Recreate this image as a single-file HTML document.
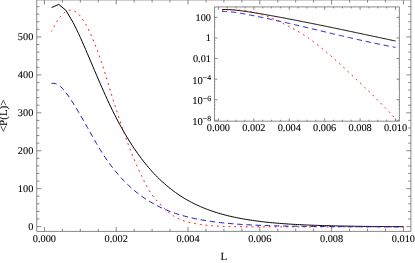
<!DOCTYPE html>
<html><head><meta charset="utf-8"><title>plot</title>
<style>
html,body{margin:0;padding:0;background:#fff;}
body{width:415px;height:263px;overflow:hidden;font-family:"Liberation Serif",serif;}
svg{display:block;}
</style></head><body>
<svg width="415" height="263" viewBox="0 0 415 263">
<rect width="415" height="263" fill="#fff"/>
<path d="M36.75 231.4 H410.9 M36.75 -0.1 H410.9 M36.75 -0.1 V231.4 M410.9 -0.1 V231.4 M44.4 231.4 v-4.6 M44.4 -0.1 v4.6 M62.35 231.4 v-2.7 M62.35 -0.1 v2.7 M80.3 231.4 v-2.7 M80.3 -0.1 v2.7 M98.25 231.4 v-2.7 M98.25 -0.1 v2.7 M116.2 231.4 v-4.6 M116.2 -0.1 v4.6 M134.15 231.4 v-2.7 M134.15 -0.1 v2.7 M152.1 231.4 v-2.7 M152.1 -0.1 v2.7 M170.05 231.4 v-2.7 M170.05 -0.1 v2.7 M188 231.4 v-4.6 M188 -0.1 v4.6 M205.95 231.4 v-2.7 M205.95 -0.1 v2.7 M223.9 231.4 v-2.7 M223.9 -0.1 v2.7 M241.85 231.4 v-2.7 M241.85 -0.1 v2.7 M259.8 231.4 v-4.6 M259.8 -0.1 v4.6 M277.75 231.4 v-2.7 M277.75 -0.1 v2.7 M295.7 231.4 v-2.7 M295.7 -0.1 v2.7 M313.65 231.4 v-2.7 M313.65 -0.1 v2.7 M331.6 231.4 v-4.6 M331.6 -0.1 v4.6 M349.55 231.4 v-2.7 M349.55 -0.1 v2.7 M367.5 231.4 v-2.7 M367.5 -0.1 v2.7 M385.45 231.4 v-2.7 M385.45 -0.1 v2.7 M403.4 231.4 v-4.6 M403.4 -0.1 v4.6 M36.75 226.6 h4.6 M410.9 226.6 h-4.6 M36.75 219.01 h2.7 M410.9 219.01 h-2.7 M36.75 211.43 h2.7 M410.9 211.43 h-2.7 M36.75 203.84 h2.7 M410.9 203.84 h-2.7 M36.75 196.26 h2.7 M410.9 196.26 h-2.7 M36.75 188.67 h4.6 M410.9 188.67 h-4.6 M36.75 181.08 h2.7 M410.9 181.08 h-2.7 M36.75 173.5 h2.7 M410.9 173.5 h-2.7 M36.75 165.91 h2.7 M410.9 165.91 h-2.7 M36.75 158.33 h2.7 M410.9 158.33 h-2.7 M36.75 150.74 h4.6 M410.9 150.74 h-4.6 M36.75 143.15 h2.7 M410.9 143.15 h-2.7 M36.75 135.57 h2.7 M410.9 135.57 h-2.7 M36.75 127.98 h2.7 M410.9 127.98 h-2.7 M36.75 120.4 h2.7 M410.9 120.4 h-2.7 M36.75 112.81 h4.6 M410.9 112.81 h-4.6 M36.75 105.22 h2.7 M410.9 105.22 h-2.7 M36.75 97.64 h2.7 M410.9 97.64 h-2.7 M36.75 90.05 h2.7 M410.9 90.05 h-2.7 M36.75 82.47 h2.7 M410.9 82.47 h-2.7 M36.75 74.88 h4.6 M410.9 74.88 h-4.6 M36.75 67.29 h2.7 M410.9 67.29 h-2.7 M36.75 59.71 h2.7 M410.9 59.71 h-2.7 M36.75 52.12 h2.7 M410.9 52.12 h-2.7 M36.75 44.54 h2.7 M410.9 44.54 h-2.7 M36.75 36.95 h4.6 M410.9 36.95 h-4.6 M36.75 29.36 h2.7 M410.9 29.36 h-2.7 M36.75 21.78 h2.7 M410.9 21.78 h-2.7 M36.75 14.19 h2.7 M410.9 14.19 h-2.7 M36.75 6.61 h2.7 M410.9 6.61 h-2.7" fill="none" stroke="#6a6a6a" stroke-width="0.8"/>
<path d="M214.55 6.9 H399.4 V121.2 H214.55 Z M218.44 121.2 v-2.9 M218.44 6.9 v2.9 M227.29 121.2 v-1.5 M227.29 6.9 v1.5 M236.15 121.2 v-1.5 M236.15 6.9 v1.5 M245 121.2 v-1.5 M245 6.9 v1.5 M253.86 121.2 v-2.9 M253.86 6.9 v2.9 M262.71 121.2 v-1.5 M262.71 6.9 v1.5 M271.57 121.2 v-1.5 M271.57 6.9 v1.5 M280.42 121.2 v-1.5 M280.42 6.9 v1.5 M289.28 121.2 v-2.9 M289.28 6.9 v2.9 M298.13 121.2 v-1.5 M298.13 6.9 v1.5 M306.99 121.2 v-1.5 M306.99 6.9 v1.5 M315.84 121.2 v-1.5 M315.84 6.9 v1.5 M324.69 121.2 v-2.9 M324.69 6.9 v2.9 M333.55 121.2 v-1.5 M333.55 6.9 v1.5 M342.4 121.2 v-1.5 M342.4 6.9 v1.5 M351.26 121.2 v-1.5 M351.26 6.9 v1.5 M360.11 121.2 v-2.9 M360.11 6.9 v2.9 M368.97 121.2 v-1.5 M368.97 6.9 v1.5 M377.82 121.2 v-1.5 M377.82 6.9 v1.5 M386.68 121.2 v-1.5 M386.68 6.9 v1.5 M395.53 121.2 v-2.9 M395.53 6.9 v2.9 M214.55 17.4 h2.9 M399.4 17.4 h-2.9 M214.55 37.98 h2.9 M399.4 37.98 h-2.9 M214.55 58.56 h2.9 M399.4 58.56 h-2.9 M214.55 79.14 h2.9 M399.4 79.14 h-2.9 M214.55 99.72 h2.9 M399.4 99.72 h-2.9 M214.55 120.3 h2.9 M399.4 120.3 h-2.9" fill="none" stroke="#6a6a6a" stroke-width="0.8"/>
<path d="M214.55 19.85 h1.4 M399.4 19.85 h-1.4 M214.55 22.8 h1.4 M399.4 22.8 h-1.4 M214.55 26.25 h1.4 M399.4 26.25 h-1.4 M214.55 40.43 h1.4 M399.4 40.43 h-1.4 M214.55 43.38 h1.4 M399.4 43.38 h-1.4 M214.55 46.83 h1.4 M399.4 46.83 h-1.4 M214.55 61.01 h1.4 M399.4 61.01 h-1.4 M214.55 63.96 h1.4 M399.4 63.96 h-1.4 M214.55 67.41 h1.4 M399.4 67.41 h-1.4 M214.55 81.59 h1.4 M399.4 81.59 h-1.4 M214.55 84.54 h1.4 M399.4 84.54 h-1.4 M214.55 87.99 h1.4 M399.4 87.99 h-1.4 M214.55 102.17 h1.4 M399.4 102.17 h-1.4 M214.55 105.12 h1.4 M399.4 105.12 h-1.4 M214.55 108.57 h1.4 M399.4 108.57 h-1.4" fill="none" stroke="#6a6a6a" stroke-width="0.6" opacity="0.4"/>
<g fill="none" stroke-width="1" stroke-linejoin="round">
<path d="M51.58 7.5 L58.76 4.4 L65.94 10.4 L73.12 22.56 L74.91 26.07 L76.71 29.72 L78.5 33.5 L80.3 37.39 L82.09 41.38 L83.89 45.45 L85.68 49.58 L87.48 53.76 L89.27 57.97 L91.07 62.21 L92.86 66.45 L94.66 70.68 L96.45 74.9 L98.25 79.09 L100.04 83.24 L101.84 87.35 L103.63 91.41 L105.43 95.4 L107.22 99.32 L109.02 103.18 L110.81 106.95 L112.61 110.64 L114.4 114.24 L116.2 117.76 L117.99 121.2 L119.79 124.55 L121.58 127.81 L123.38 131 L125.17 134.1 L126.97 137.11 L128.76 140.05 L130.56 142.91 L132.35 145.69 L134.15 148.4 L135.94 151.03 L137.74 153.58 L139.53 156.06 L141.33 158.47 L143.12 160.81 L144.92 163.08 L146.71 165.28 L148.51 167.42 L150.3 169.49 L152.1 171.49 L153.89 173.44 L155.69 175.32 L157.48 177.15 L159.28 178.92 L161.07 180.63 L162.87 182.28 L164.66 183.88 L166.46 185.43 L168.25 186.93 L170.05 188.38 L171.84 189.78 L173.64 191.14 L175.43 192.45 L177.23 193.71 L179.02 194.93 L180.82 196.11 L182.61 197.25 L184.41 198.35 L186.2 199.41 L188 200.43 L189.79 201.42 L191.59 202.37 L193.38 203.29 L195.18 204.17 L196.97 205.03 L198.77 205.85 L200.56 206.64 L202.36 207.41 L204.15 208.15 L205.95 208.86 L207.74 209.54 L209.54 210.21 L211.33 210.84 L213.13 211.45 L214.92 212.05 L216.72 212.61 L218.51 213.16 L220.31 213.69 L222.1 214.2 L223.9 214.69 L225.69 215.16 L227.49 215.61 L229.28 216.05 L231.08 216.47 L232.87 216.88 L234.67 217.26 L236.46 217.64 L238.26 218 L240.05 218.35 L241.85 218.68 L243.64 219 L245.44 219.31 L247.23 219.61 L249.03 219.9 L250.82 220.17 L252.62 220.43 L254.41 220.69 L256.21 220.93 L258 221.17 L259.8 221.39 L261.59 221.61 L263.39 221.82 L265.18 222.02 L266.98 222.21 L268.77 222.4 L270.57 222.58 L272.36 222.75 L274.16 222.91 L275.95 223.07 L277.75 223.22 L279.54 223.37 L281.34 223.51 L283.13 223.65 L284.93 223.78 L286.72 223.9 L288.52 224.02 L290.31 224.13 L292.11 224.24 L293.9 224.35 L295.7 224.45 L297.49 224.55 L299.29 224.64 L301.08 224.73 L302.88 224.82 L304.67 224.9 L306.47 224.98 L308.26 225.06 L310.06 225.13 L311.85 225.2 L313.65 225.27 L315.44 225.33 L317.24 225.39 L319.03 225.45 L320.83 225.51 L322.62 225.57 L324.42 225.62 L326.21 225.67 L328.01 225.72 L329.8 225.76 L331.6 225.81 L333.39 225.85 L335.19 225.89 L336.98 225.93 L338.78 225.97 L340.57 226.01 L342.37 226.04 L344.16 226.07 L345.96 226.11 L347.75 226.14 L349.55 226.17 L351.34 226.2 L353.14 226.22 L354.93 226.25 L356.73 226.27 L358.52 226.3 L360.32 226.32 L362.11 226.34 L363.91 226.36 L365.7 226.38 L367.5 226.4 L369.29 226.42 L371.09 226.44 L372.88 226.46 L374.68 226.47 L376.47 226.49 L378.27 226.5 L380.06 226.52 L381.86 226.53 L383.65 226.54 L385.45 226.56 L387.24 226.57 L389.04 226.58 L390.83 226.59 L392.63 226.6 L394.42 226.61 L396.22 226.62 L398.01 226.63 L399.81 226.64 L401.6 226.65 L403.4 226.66" stroke="#000"/>
<path d="M51.58 31.43 L53.38 27.79 L55.17 24.44 L56.96 21.4 L58.76 18.7 L60.55 16.35 L62.35 14.36 L64.14 12.75 L65.94 11.52 L67.73 10.68 L69.53 10.25 L71.32 10.22 L73.12 10.59 L74.91 11.38 L76.71 12.56 L78.5 14.14 L80.3 16.12 L82.09 18.47 L83.89 21.17 L85.68 24.2 L87.48 27.53 L89.27 31.13 L91.07 34.99 L92.86 39.11 L94.66 43.47 L96.45 48.09 L98.25 52.94 L100.04 58.02 L101.84 63.32 L103.63 68.82 L105.43 74.49 L107.22 80.33 L109.02 86.31 L110.81 92.31 L112.61 98.14 L114.4 103.82 L116.2 109.37 L117.99 114.82 L119.79 120.17 L121.58 125.46 L123.38 130.68 L125.17 135.83 L126.97 140.9 L128.76 145.83 L130.56 150.57 L132.35 155.1 L134.15 159.4 L135.94 163.53 L137.74 167.56 L139.53 171.52 L141.33 175.41 L143.12 179.18 L144.92 182.79 L146.71 186.18 L148.51 189.34 L150.3 192.24 L152.1 194.89 L153.89 197.28 L155.69 199.46 L157.48 201.49 L159.28 203.41 L161.07 205.26 L162.87 207.06 L164.66 208.82 L166.46 210.5 L168.25 212.08 L170.05 213.54 L171.84 214.88 L173.64 216.08 L175.43 217.16 L177.23 218.11 L179.02 218.96 L180.82 219.71 L182.61 220.39 L184.41 221.01 L186.2 221.56 L188 222.06 L189.79 222.52 L191.59 222.93 L193.38 223.31 L195.18 223.66 L196.97 223.98 L198.77 224.27 L200.56 224.54 L202.36 224.79 L204.15 225.01 L205.95 225.21 L207.74 225.39 L209.54 225.56 L211.33 225.71 L213.13 225.84 L214.92 225.96 L216.72 226.07 L218.51 226.16 L220.31 226.25 L222.1 226.32 L223.9 226.39 L225.69 226.45 L227.49 226.5 L229.28 226.55 L231.08 226.59 L232.87 226.62 L234.67 226.65 L236.46 226.68 L238.26 226.7 L240.05 226.72 L241.85 226.74 L243.64 226.76 L245.44 226.77 L247.23 226.78 L249.03 226.79 L250.82 226.8 L252.62 226.81 L254.41 226.81 L256.21 226.82 L258 226.82 L259.8 226.83 L261.59 226.83 L263.39 226.83 L265.18 226.84 L266.98 226.84 L268.77 226.84 L270.57 226.84 L272.36 226.84 L274.16 226.84 L275.95 226.85 L277.75 226.85 L279.54 226.85 L281.34 226.85 L283.13 226.85 L284.93 226.85 L286.72 226.85 L288.52 226.85 L290.31 226.85 L292.11 226.85 L293.9 226.85 L295.7 226.85 L297.49 226.85 L299.29 226.85 L301.08 226.85 L302.88 226.85 L304.67 226.85 L306.47 226.85 L308.26 226.85 L310.06 226.85 L311.85 226.85 L313.65 226.85 L315.44 226.85 L317.24 226.85 L319.03 226.85 L320.83 226.85 L322.62 226.85 L324.42 226.85 L326.21 226.85 L328.01 226.85 L329.8 226.85 L331.6 226.85 L333.39 226.85 L335.19 226.85 L336.98 226.85 L338.78 226.85 L340.57 226.85 L342.37 226.85 L344.16 226.85 L345.96 226.85 L347.75 226.85 L349.55 226.85 L351.34 226.85 L353.14 226.85 L354.93 226.85 L356.73 226.85 L358.52 226.85 L360.32 226.85 L362.11 226.85 L363.91 226.85 L365.7 226.85 L367.5 226.85 L369.29 226.85 L371.09 226.85 L372.88 226.85 L374.68 226.85 L376.47 226.85 L378.27 226.85 L380.06 226.85 L381.86 226.85 L383.65 226.85 L385.45 226.85 L387.24 226.85 L389.04 226.85 L390.83 226.85 L392.63 226.85 L394.42 226.85 L396.22 226.85 L398.01 226.85 L399.81 226.85 L401.6 226.85 L403.4 226.85" stroke="#f00" stroke-width="0.95" stroke-dasharray="1.8 3.96" stroke-dashoffset="0.9"/>
<path d="M51.58 83.5 L53.38 83.27 L55.17 83.51 L56.96 84.17 L58.76 85.22 L60.55 86.63 L62.35 88.36 L64.14 90.36 L65.94 92.59 L67.73 95.02 L69.53 97.6 L71.32 100.31 L73.12 103.1 L74.91 105.97 L76.71 108.92 L78.5 111.92 L80.3 114.98 L82.09 118.08 L83.89 121.22 L85.68 124.39 L87.48 127.57 L89.27 130.77 L91.07 133.98 L92.86 137.17 L94.66 140.33 L96.45 143.44 L98.25 146.49 L100.04 149.45 L101.84 152.32 L103.63 155.1 L105.43 157.79 L107.22 160.38 L109.02 162.9 L110.81 165.33 L112.61 167.68 L114.4 169.95 L116.2 172.15 L117.99 174.27 L119.79 176.32 L121.58 178.3 L123.38 180.22 L125.17 182.06 L126.97 183.84 L128.76 185.56 L130.56 187.22 L132.35 188.82 L134.15 190.36 L135.94 191.84 L137.74 193.27 L139.53 194.65 L141.33 195.98 L143.12 197.25 L144.92 198.48 L146.71 199.66 L148.51 200.8 L150.3 201.89 L152.1 202.94 L153.89 203.95 L155.69 204.93 L157.48 205.86 L159.28 206.75 L161.07 207.62 L162.87 208.44 L164.66 209.23 L166.46 210 L168.25 210.73 L170.05 211.43 L171.84 212.1 L173.64 212.74 L175.43 213.36 L177.23 213.96 L179.02 214.52 L180.82 215.07 L182.61 215.59 L184.41 216.09 L186.2 216.57 L188 217.02 L189.79 217.46 L191.59 217.88 L193.38 218.28 L195.18 218.67 L196.97 219.04 L198.77 219.39 L200.56 219.73 L202.36 220.05 L204.15 220.36 L205.95 220.65 L207.74 220.93 L209.54 221.2 L211.33 221.46 L213.13 221.7 L214.92 221.94 L216.72 222.16 L218.51 222.38 L220.31 222.58 L222.1 222.78 L223.9 222.97 L225.69 223.14 L227.49 223.31 L229.28 223.48 L231.08 223.63 L232.87 223.78 L234.67 223.92 L236.46 224.06 L238.26 224.19 L240.05 224.31 L241.85 224.43 L243.64 224.54 L245.44 224.64 L247.23 224.75 L249.03 224.84 L250.82 224.94 L252.62 225.02 L254.41 225.11 L256.21 225.19 L258 225.27 L259.8 225.34 L261.59 225.41 L263.39 225.48 L265.18 225.54 L266.98 225.6 L268.77 225.66 L270.57 225.71 L272.36 225.76 L274.16 225.81 L275.95 225.86 L277.75 225.91 L279.54 225.95 L281.34 225.99 L283.13 226.03 L284.93 226.07 L286.72 226.1 L288.52 226.14 L290.31 226.17 L292.11 226.2 L293.9 226.23 L295.7 226.26 L297.49 226.29 L299.29 226.31 L301.08 226.34 L302.88 226.36 L304.67 226.38 L306.47 226.4 L308.26 226.42 L310.06 226.44 L311.85 226.46 L313.65 226.48 L315.44 226.49 L317.24 226.51 L319.03 226.52 L320.83 226.54 L322.62 226.55 L324.42 226.57 L326.21 226.58 L328.01 226.59 L329.8 226.6 L331.6 226.61 L333.39 226.62 L335.19 226.63 L336.98 226.64 L338.78 226.65 L340.57 226.66 L342.37 226.67 L344.16 226.67 L345.96 226.68 L347.75 226.69 L349.55 226.7 L351.34 226.7 L353.14 226.71 L354.93 226.71 L356.73 226.72 L358.52 226.73 L360.32 226.73 L362.11 226.74 L363.91 226.74 L365.7 226.74 L367.5 226.75 L369.29 226.75 L371.09 226.76 L372.88 226.76 L374.68 226.76 L376.47 226.77 L378.27 226.77 L380.06 226.77 L381.86 226.78 L383.65 226.78 L385.45 226.78 L387.24 226.79 L389.04 226.79 L390.83 226.79 L392.63 226.79 L394.42 226.79 L396.22 226.8 L398.01 226.8 L399.81 226.8 L401.6 226.8 L403.4 226.8" stroke="#1818be" stroke-dasharray="5.45 3.75" stroke-dashoffset="0.25"/>
<path d="M221.98 9.56 L225.52 9.49 L229.07 9.62 L232.61 9.88 L233.49 9.95 L234.38 10.03 L235.26 10.12 L236.15 10.21 L237.03 10.31 L237.92 10.41 L238.81 10.51 L239.69 10.62 L240.58 10.73 L241.46 10.84 L242.35 10.96 L243.23 11.08 L244.12 11.2 L245 11.32 L245.89 11.45 L246.77 11.58 L247.66 11.71 L248.55 11.85 L249.43 11.98 L250.32 12.12 L251.2 12.26 L252.09 12.4 L252.97 12.54 L253.86 12.68 L254.74 12.82 L255.63 12.97 L256.51 13.11 L257.4 13.26 L258.29 13.4 L259.17 13.55 L260.06 13.7 L260.94 13.85 L261.83 14 L262.71 14.15 L263.6 14.3 L264.48 14.46 L265.37 14.61 L266.25 14.77 L267.14 14.92 L268.03 15.08 L268.91 15.24 L269.8 15.39 L270.68 15.55 L271.57 15.71 L272.45 15.87 L273.34 16.03 L274.22 16.19 L275.11 16.35 L275.99 16.52 L276.88 16.68 L277.77 16.84 L278.65 17.01 L279.54 17.17 L280.42 17.34 L281.31 17.5 L282.19 17.67 L283.08 17.84 L283.96 18 L284.85 18.17 L285.73 18.34 L286.62 18.51 L287.51 18.68 L288.39 18.85 L289.28 19.02 L290.16 19.19 L291.05 19.36 L291.93 19.53 L292.82 19.7 L293.7 19.87 L294.59 20.04 L295.47 20.21 L296.36 20.39 L297.25 20.56 L298.13 20.73 L299.02 20.91 L299.9 21.08 L300.79 21.25 L301.67 21.43 L302.56 21.6 L303.44 21.78 L304.33 21.95 L305.21 22.13 L306.1 22.31 L306.99 22.48 L307.87 22.66 L308.76 22.84 L309.64 23.01 L310.53 23.19 L311.41 23.37 L312.3 23.55 L313.18 23.73 L314.07 23.9 L314.95 24.08 L315.84 24.26 L316.72 24.44 L317.61 24.62 L318.5 24.8 L319.38 24.98 L320.27 25.16 L321.15 25.34 L322.04 25.52 L322.92 25.7 L323.81 25.88 L324.69 26.07 L325.58 26.25 L326.46 26.43 L327.35 26.61 L328.24 26.79 L329.12 26.98 L330.01 27.16 L330.89 27.34 L331.78 27.53 L332.66 27.71 L333.55 27.89 L334.43 28.08 L335.32 28.26 L336.2 28.44 L337.09 28.63 L337.98 28.81 L338.86 29 L339.75 29.18 L340.63 29.37 L341.52 29.55 L342.4 29.74 L343.29 29.92 L344.17 30.11 L345.06 30.29 L345.94 30.48 L346.83 30.67 L347.72 30.85 L348.6 31.04 L349.49 31.22 L350.37 31.41 L351.26 31.6 L352.14 31.78 L353.03 31.97 L353.91 32.16 L354.8 32.35 L355.68 32.53 L356.57 32.72 L357.46 32.91 L358.34 33.1 L359.23 33.28 L360.11 33.47 L361 33.66 L361.88 33.85 L362.77 34.03 L363.65 34.22 L364.54 34.41 L365.42 34.6 L366.31 34.79 L367.2 34.97 L368.08 35.16 L368.97 35.35 L369.85 35.54 L370.74 35.73 L371.62 35.92 L372.51 36.11 L373.39 36.29 L374.28 36.48 L375.16 36.67 L376.05 36.86 L376.94 37.05 L377.82 37.24 L378.71 37.43 L379.59 37.61 L380.48 37.8 L381.36 37.99 L382.25 38.18 L383.13 38.37 L384.02 38.56 L384.9 38.75 L385.79 38.94 L386.68 39.12 L387.56 39.31 L388.45 39.5 L389.33 39.69 L390.22 39.88 L391.1 40.07 L391.99 40.26 L392.87 40.44 L393.76 40.63 L394.64 40.82 L395.53 41.01" stroke="#000"/>
<path d="M221.98 10.07 L222.87 9.99 L223.75 9.92 L224.64 9.85 L225.52 9.79 L226.41 9.74 L227.29 9.7 L228.18 9.67 L229.07 9.64 L229.95 9.62 L230.84 9.61 L231.72 9.61 L232.61 9.62 L233.49 9.64 L234.38 9.66 L235.26 9.69 L236.15 9.74 L237.03 9.79 L237.92 9.85 L238.81 9.91 L239.69 9.99 L240.58 10.07 L241.46 10.16 L242.35 10.25 L243.23 10.36 L244.12 10.47 L245 10.59 L245.89 10.73 L246.77 10.87 L247.66 11.02 L248.55 11.19 L249.43 11.36 L250.32 11.55 L251.2 11.74 L252.09 11.94 L252.97 12.14 L253.86 12.35 L254.74 12.56 L255.63 12.78 L256.51 13.01 L257.4 13.24 L258.29 13.49 L259.17 13.74 L260.06 14.01 L260.94 14.28 L261.83 14.55 L262.71 14.83 L263.6 15.11 L264.48 15.4 L265.37 15.71 L266.25 16.04 L267.14 16.38 L268.03 16.73 L268.91 17.09 L269.8 17.45 L270.68 17.81 L271.57 18.17 L272.45 18.51 L273.34 18.86 L274.22 19.2 L275.11 19.55 L275.99 19.92 L276.88 20.31 L277.77 20.72 L278.65 21.16 L279.54 21.62 L280.42 22.08 L281.31 22.55 L282.19 23.03 L283.08 23.5 L283.96 23.96 L284.85 24.42 L285.73 24.87 L286.62 25.31 L287.51 25.76 L288.39 26.2 L289.28 26.65 L290.16 27.1 L291.05 27.55 L291.93 28 L292.82 28.47 L293.7 28.94 L294.59 29.42 L295.47 29.91 L296.36 30.41 L297.25 30.92 L298.13 31.44 L299.02 31.97 L299.9 32.51 L300.79 33.05 L301.67 33.61 L302.56 34.17 L303.44 34.74 L304.33 35.33 L305.21 35.91 L306.1 36.51 L306.99 37.12 L307.87 37.73 L308.76 38.35 L309.64 38.98 L310.53 39.61 L311.41 40.26 L312.3 40.91 L313.18 41.57 L314.07 42.23 L314.95 42.9 L315.84 43.58 L316.72 44.26 L317.61 44.95 L318.5 45.65 L319.38 46.35 L320.27 47.06 L321.15 47.77 L322.04 48.49 L322.92 49.22 L323.81 49.95 L324.69 50.69 L325.58 51.43 L326.46 52.17 L327.35 52.92 L328.24 53.68 L329.12 54.44 L330.01 55.2 L330.89 55.97 L331.78 56.75 L332.66 57.52 L333.55 58.3 L334.43 59.09 L335.32 59.88 L336.2 60.67 L337.09 61.46 L337.98 62.26 L338.86 63.07 L339.75 63.87 L340.63 64.68 L341.52 65.49 L342.4 66.3 L343.29 67.11 L344.17 67.93 L345.06 68.75 L345.94 69.57 L346.83 70.4 L347.72 71.22 L348.6 72.05 L349.49 72.87 L350.37 73.7 L351.26 74.53 L352.14 75.37 L353.03 76.2 L353.91 77.03 L354.8 77.87 L355.68 78.7 L356.57 79.54 L357.46 80.38 L358.34 81.22 L359.23 82.06 L360.11 82.9 L361 83.75 L361.88 84.6 L362.77 85.44 L363.65 86.3 L364.54 87.15 L365.42 88 L366.31 88.86 L367.2 89.72 L368.08 90.58 L368.97 91.44 L369.85 92.31 L370.74 93.18 L371.62 94.05 L372.51 94.92 L373.39 95.8 L374.28 96.68 L375.16 97.56 L376.05 98.45 L376.94 99.34 L377.82 100.23 L378.71 101.12 L379.59 102.02 L380.48 102.92 L381.36 103.83 L382.25 104.74 L383.13 105.65 L384.02 106.56 L384.9 107.48 L385.79 108.4 L386.68 109.33 L387.56 110.26 L388.45 111.2 L389.33 112.14 L390.22 113.08 L391.1 114.03 L391.99 114.98 L392.87 115.93 L393.76 116.89 L394.64 117.86 L395.53 118.83" stroke="#f00" stroke-width="0.95" stroke-dasharray="1.8 3.976" stroke-dashoffset="0.45"/>
<path d="M221.98 11.46 L222.87 11.45 L223.75 11.46 L224.64 11.48 L225.52 11.51 L226.41 11.56 L227.29 11.61 L228.18 11.68 L229.07 11.75 L229.95 11.83 L230.84 11.92 L231.72 12.02 L232.61 12.12 L233.49 12.22 L234.38 12.33 L235.26 12.45 L236.15 12.57 L237.03 12.69 L237.92 12.82 L238.81 12.96 L239.69 13.1 L240.58 13.25 L241.46 13.4 L242.35 13.55 L243.23 13.71 L244.12 13.88 L245 14.04 L245.89 14.21 L246.77 14.38 L247.66 14.55 L248.55 14.72 L249.43 14.89 L250.32 15.07 L251.2 15.24 L252.09 15.41 L252.97 15.59 L253.86 15.76 L254.74 15.94 L255.63 16.12 L256.51 16.3 L257.4 16.48 L258.29 16.66 L259.17 16.84 L260.06 17.02 L260.94 17.2 L261.83 17.39 L262.71 17.57 L263.6 17.76 L264.48 17.94 L265.37 18.13 L266.25 18.32 L267.14 18.51 L268.03 18.7 L268.91 18.89 L269.8 19.08 L270.68 19.27 L271.57 19.46 L272.45 19.66 L273.34 19.85 L274.22 20.04 L275.11 20.24 L275.99 20.43 L276.88 20.63 L277.77 20.83 L278.65 21.03 L279.54 21.22 L280.42 21.42 L281.31 21.62 L282.19 21.82 L283.08 22.02 L283.96 22.22 L284.85 22.42 L285.73 22.62 L286.62 22.83 L287.51 23.03 L288.39 23.23 L289.28 23.44 L290.16 23.64 L291.05 23.85 L291.93 24.05 L292.82 24.26 L293.7 24.46 L294.59 24.67 L295.47 24.87 L296.36 25.08 L297.25 25.29 L298.13 25.49 L299.02 25.7 L299.9 25.91 L300.79 26.12 L301.67 26.33 L302.56 26.54 L303.44 26.75 L304.33 26.95 L305.21 27.16 L306.1 27.37 L306.99 27.58 L307.87 27.79 L308.76 28 L309.64 28.21 L310.53 28.43 L311.41 28.64 L312.3 28.85 L313.18 29.06 L314.07 29.27 L314.95 29.48 L315.84 29.69 L316.72 29.9 L317.61 30.11 L318.5 30.33 L319.38 30.54 L320.27 30.75 L321.15 30.96 L322.04 31.17 L322.92 31.38 L323.81 31.59 L324.69 31.8 L325.58 32.02 L326.46 32.23 L327.35 32.44 L328.24 32.65 L329.12 32.86 L330.01 33.07 L330.89 33.28 L331.78 33.49 L332.66 33.7 L333.55 33.91 L334.43 34.12 L335.32 34.33 L336.2 34.54 L337.09 34.75 L337.98 34.96 L338.86 35.17 L339.75 35.37 L340.63 35.58 L341.52 35.79 L342.4 36 L343.29 36.2 L344.17 36.41 L345.06 36.62 L345.94 36.82 L346.83 37.03 L347.72 37.23 L348.6 37.44 L349.49 37.64 L350.37 37.85 L351.26 38.05 L352.14 38.25 L353.03 38.46 L353.91 38.66 L354.8 38.86 L355.68 39.06 L356.57 39.26 L357.46 39.46 L358.34 39.66 L359.23 39.86 L360.11 40.06 L361 40.26 L361.88 40.46 L362.77 40.65 L363.65 40.85 L364.54 41.05 L365.42 41.24 L366.31 41.44 L367.2 41.63 L368.08 41.82 L368.97 42.01 L369.85 42.21 L370.74 42.4 L371.62 42.59 L372.51 42.78 L373.39 42.96 L374.28 43.15 L375.16 43.34 L376.05 43.53 L376.94 43.71 L377.82 43.9 L378.71 44.08 L379.59 44.26 L380.48 44.45 L381.36 44.63 L382.25 44.81 L383.13 44.99 L384.02 45.17 L384.9 45.34 L385.79 45.52 L386.68 45.7 L387.56 45.87 L388.45 46.05 L389.33 46.22 L390.22 46.39 L391.1 46.56 L391.99 46.73 L392.87 46.9 L393.76 47.07 L394.64 47.24 L395.53 47.4" stroke="#1818be" stroke-dasharray="5.45 3.75" stroke-dashoffset="0.35"/>
</g>
<g font-family="'Liberation Serif', serif" font-size="10.3" fill="#000" stroke="#000" stroke-width="0.1" text-rendering="geometricPrecision" style="will-change:transform;opacity:0.999">
<text x="33.3" y="229.9" text-anchor="end">0</text>
<text x="33.3" y="191.97" text-anchor="end">100</text>
<text x="33.3" y="154.04" text-anchor="end">200</text>
<text x="33.3" y="116.11" text-anchor="end">300</text>
<text x="33.3" y="78.18" text-anchor="end">400</text>
<text x="33.3" y="40.25" text-anchor="end">500</text>
<text x="44.4" y="242" text-anchor="middle">0.000</text>
<text x="116.2" y="242" text-anchor="middle">0.002</text>
<text x="188" y="242" text-anchor="middle">0.004</text>
<text x="259.8" y="242" text-anchor="middle">0.006</text>
<text x="331.6" y="242" text-anchor="middle">0.008</text>
<text x="403.4" y="242" text-anchor="middle">0.010</text>
<text x="223.8" y="260.2" text-anchor="middle" font-size="11">L</text>
<text transform="translate(6.7,115.8) rotate(-90)" text-anchor="middle" font-size="11">&lt;P(L)&gt;</text>
<text x="218.44" y="131.4" text-anchor="middle">0.000</text>
<text x="253.86" y="131.4" text-anchor="middle">0.002</text>
<text x="289.28" y="131.4" text-anchor="middle">0.004</text>
<text x="324.69" y="131.4" text-anchor="middle">0.006</text>
<text x="360.11" y="131.4" text-anchor="middle">0.008</text>
<text x="395.53" y="131.4" text-anchor="middle">0.010</text>
<text x="211.0" y="20.7" text-anchor="end">100</text>
<text x="211.0" y="41.28" text-anchor="end">1</text>
<text x="211.0" y="61.86" text-anchor="end">0.01</text>
<text x="211.0" y="83.74" text-anchor="end" font-size="10.6">10<tspan font-size="7.7" dy="-3.5">−4</tspan></text>
<text x="211.0" y="104.32" text-anchor="end" font-size="10.6">10<tspan font-size="7.7" dy="-3.5">−6</tspan></text>
<text x="211.0" y="124.9" text-anchor="end" font-size="10.6">10<tspan font-size="7.7" dy="-3.5">−8</tspan></text>
</g>
</svg>
</body></html>
